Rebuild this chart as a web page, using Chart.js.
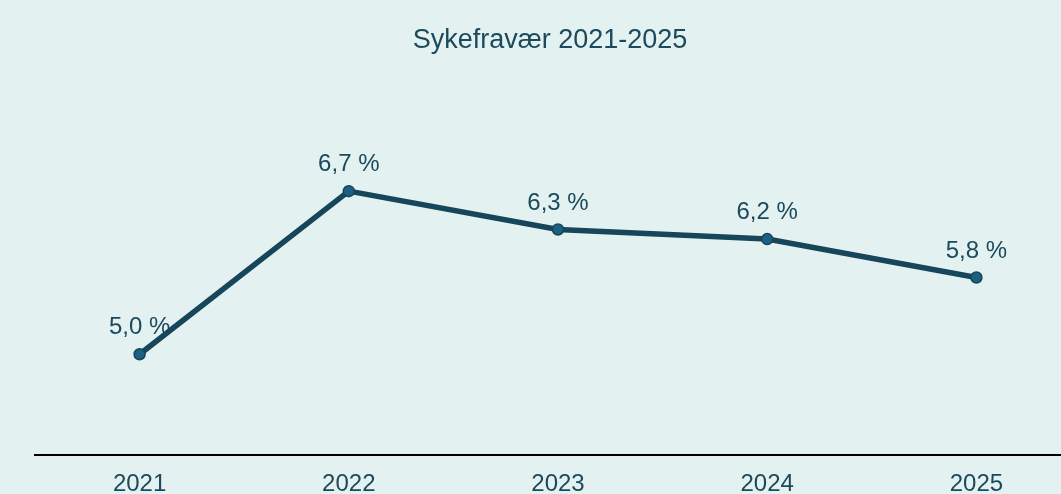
<!DOCTYPE html>
<html>
<head>
<meta charset="utf-8">
<script src="https://cdn.jsdelivr.net/npm/chart.js@4"></script>
<style>
  html, body { margin: 0; padding: 0; background: #e4f1f1; overflow: hidden; }
  #wrap { width: 1088px; height: 494px; }
</style>
</head>
<body>
<div id="wrap"><canvas id="chart"></canvas></div>
<script>
var aar = ["2021", "2022", "2023", "2024", "2025"];
var sykefravaer = [5.0, 6.7, 6.3, 6.2, 5.8];

var tekstFarge = '#1b4a5c';
var font = "'Liberation Sans', Arial, sans-serif";

// skriver verdiene over punktene, under linja
var verdiEtiketter = {
	id: 'verdiEtiketter',
	beforeDatasetsDraw: function(chart) {
		var ctx = chart.ctx;
		var meta = chart.getDatasetMeta(0);
		ctx.save();
		ctx.font = '24px ' + font;
		ctx.fillStyle = tekstFarge;
		ctx.textAlign = 'center';
		ctx.textBaseline = 'middle';
		meta.data.forEach(function(p, i) {
			var txt = sykefravaer[i].toFixed(1).replace('.', ',') + ' %';
			ctx.fillText(txt, p.x, p.y - 26.5);
		});
		ctx.restore();
	}
};

new Chart(document.getElementById('chart'), {
	type: 'line',
	data: {
		labels: aar,
		datasets: [{
			label: 'Sykefravær',
			data: sykefravaer,
			borderColor: '#17455a',
			borderWidth: 5.5,
			backgroundColor: '#1b6184',
			pointBackgroundColor: '#1b6184',
			pointBorderColor: '#17455a',
			pointBorderWidth: 1.5,
			pointRadius: 5.5,
			tension: 0
		}]
	},
	options: {
		responsive: true,
		maintainAspectRatio: false,
		animation: false,
		layout: { padding: { left: 12, right: 0, top: 0, bottom: -19 } },
		plugins: {
			legend: { display: false },
			tooltip: { enabled: false },
			title: {
				display: true,
				text: 'Sykefravær 2021-2025',
				color: tekstFarge,
				font: { family: font, size: 27, weight: 'normal', lineHeight: 1.2 },
				padding: { top: 24, bottom: 10 }
			}
		},
		scales: {
			x: {
				offset: true,
				grid: { display: false, drawTicks: false },
				border: { display: true, color: '#000000', width: 2 },
				ticks: {
					color: tekstFarge,
					padding: 17,
					font: { family: font, size: 24, lineHeight: 1 }
				}
			},
			y: {
				display: true,
				min: 3.95,
				max: 8,
				grid: { display: false, drawTicks: false },
				border: { display: false },
				ticks: { display: false },
				afterFit: function(scale) { scale.width = 23; }
			}
		}
	},
	plugins: [verdiEtiketter]
});
</script>
</body>
</html>
